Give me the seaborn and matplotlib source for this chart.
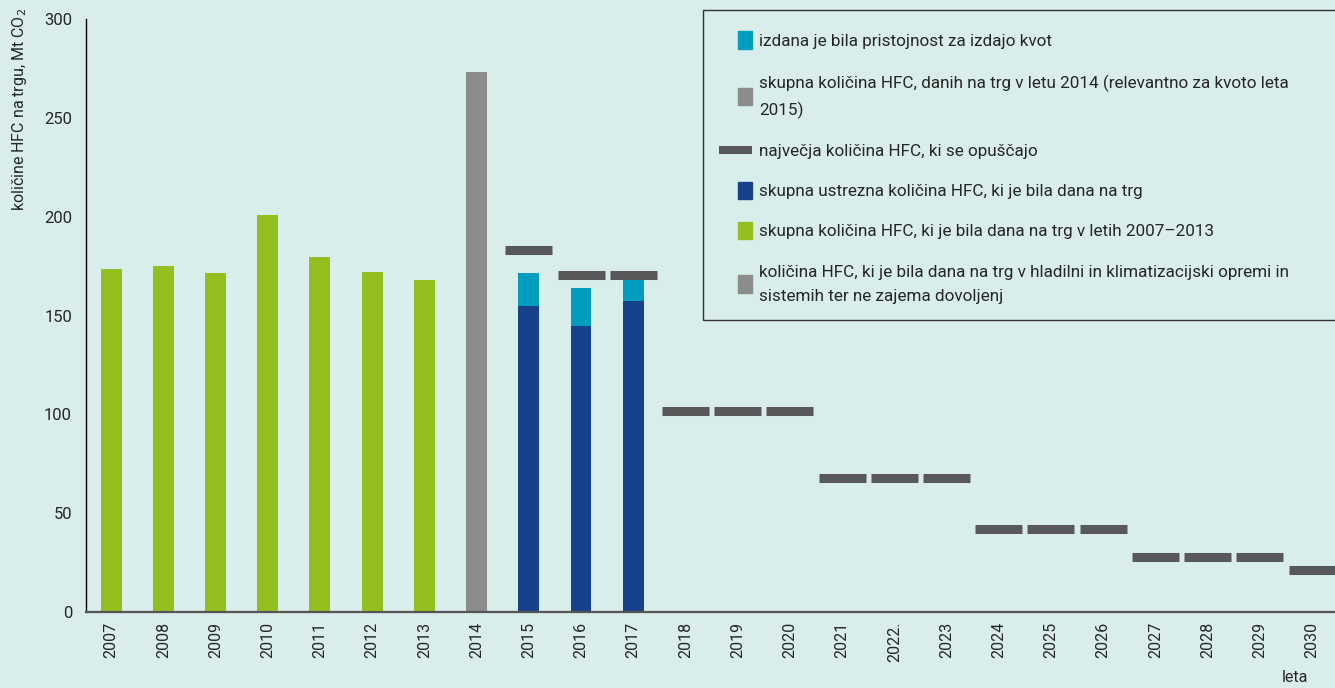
import matplotlib
matplotlib.use("Agg")
import matplotlib.pyplot as plt
import seaborn as sns
import pandas as pd
from matplotlib.patches import Patch, Rectangle
from matplotlib.lines import Line2D
from matplotlib.legend_handler import HandlerPatch

# data
years = [str(y) for y in range(2007, 2031)]
years[15] = "2022."
hist_years = ["2007", "2008", "2009", "2010", "2011", "2012", "2013"]
hist_values = [173.5, 175, 171.5, 201, 179.5, 172, 168]
y2014_value = [273]
quota_years = ["2015", "2016", "2017"]
quota_total = [171.5, 164, 168]        # teal top (incl. authorisations)
quota_eligible = [155, 144.5, 157.5]   # dark blue part
cap_values = [183, 170.5, 170.5, 101.5, 101.5, 101.5, 68, 68, 68,
              42, 42, 42, 28, 28, 28, 21.5]
cap_years = years[8:]

labels = [
    "izdana je bila pristojnost za izdajo kvot",
    "skupna količina HFC, danih na trg v letu 2014 (relevantno za kvoto leta\n2015)",
    "največja količina HFC, ki se opuščajo",
    "skupna ustrezna količina HFC, ki je bila dana na trg",
    "skupna količina HFC, ki je bila dana na trg v letih 2007–2013",
    "količina HFC, ki je bila dana na trg v hladilni in klimatizacijski opremi in\nsistemih ter ne zajema dovoljenj",
]

BG = "#d9edeb"
GREEN = "#93c01f"
GREY = "#8c8c8c"
TEAL = "#009dbf"
BLUE = "#17418a"
DASH = "#58585a"

sns.set_style("white")
plt.rcParams["font.family"] = ["Roboto", "DejaVu Sans"]

df = pd.concat([
    pd.DataFrame({"leto": hist_years, "val": hist_values, "s": "hist"}),
    pd.DataFrame({"leto": ["2014"], "val": y2014_value, "s": "y2014"}),
    pd.DataFrame({"leto": quota_years, "val": quota_total, "s": "total"}),
    pd.DataFrame({"leto": quota_years, "val": quota_eligible, "s": "eligible"}),
])

W, H = 1335, 688
fig = plt.figure(figsize=(W / 100, H / 100), dpi=100, facecolor=BG)
ax = fig.add_axes([86 / W, 1 - 612 / H, 1 - 86 / W, (612 - 19) / H], facecolor=BG)

sns.barplot(data=df, x="leto", y="val", hue="s", order=years,
            hue_order=["hist", "y2014", "total", "eligible"],
            palette=[GREEN, GREY, TEAL, BLUE], dodge=False, width=0.4,
            saturation=1, errorbar=None, legend=False, linewidth=0, ax=ax)

for yr, v in zip(cap_years, cap_values):
    i = years.index(yr)
    ax.hlines(v, i - 0.45, i + 0.45, color=DASH, linewidth=6.5, zorder=3)

ax.set_xlim(-0.48, 23.44)
ax.set_ylim(0, 300)
ax.set_yticks(range(0, 301, 50))
ax.set_xlabel("")
ax.set_ylabel("količine HFC na trgu, Mt CO$_2$", fontsize=11.5, loc="top")
ax.yaxis.set_label_coords(-0.046, 1.018)
ax.tick_params(axis="y", direction="out", length=6.5, width=1, color="black",
               labelsize=12, pad=3.5)
ax.tick_params(axis="x", length=0, labelsize=11.5, pad=7, labelrotation=90)
for s in ["top", "right"]:
    ax.spines[s].set_visible(False)
ax.spines["left"].set_color("black")
ax.spines["left"].set_linewidth(1)
ax.spines["bottom"].set_color("#555555")
ax.spines["bottom"].set_linewidth(1.6)

fig.text(1295 / W, 0.004, "leta", fontsize=11.5, ha="center", va="bottom")

# legend frame (runs off the right edge as in the original)
fig.patches.append(Rectangle((703 / W, 1 - 320 / H), 700 / W, 310 / H,
                             transform=fig.transFigure, facecolor="none",
                             edgecolor="#333333", linewidth=1, zorder=5))


def square(legend, orig_handle, xdescent, ydescent, width, height, fontsize):
    w, h = height * 1.2, height * 1.45
    return Rectangle((-xdescent + width - w, -ydescent + (height - h) / 2), w, h)


handles = [
    Patch(color=TEAL),
    Patch(color=GREY),
    Line2D([], [], color=DASH, linewidth=5.8, solid_capstyle="butt"),
    Patch(color=BLUE),
    Patch(color=GREEN),
    Patch(color=GREY),
]
leg = ax.legend(handles, labels, loc="upper left",
                bbox_to_anchor=(719 / W, 1 - 34 / H),
                bbox_transform=fig.transFigure,
                borderaxespad=0, borderpad=0, fontsize=12.3,
                handlelength=1.95, handletextpad=0.4, labelspacing=1.48,
                frameon=False,
                handler_map={Patch: HandlerPatch(patch_func=square)})
for t in leg.get_texts():
    t.set_linespacing(1.73)

fig.savefig("out.png", dpi=100, facecolor=BG)
